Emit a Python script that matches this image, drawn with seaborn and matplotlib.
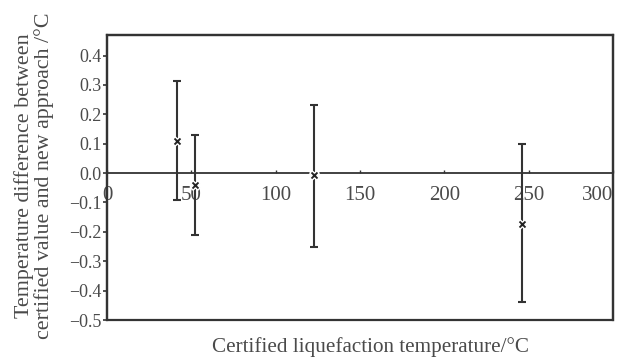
import matplotlib
matplotlib.use("Agg")
import matplotlib.pyplot as plt
from matplotlib.patches import Rectangle
import pandas as pd
import seaborn as sns

# certified liquefaction temperature vs. difference (new approach - certified)
certified_temp = [41.5, 52, 123, 246]
temp_diff = [0.108, -0.042, -0.008, -0.173]
err_upper = [0.313, 0.131, 0.231, 0.100]
err_lower = [-0.091, -0.210, -0.250, -0.440]

x_ticks = [0, 50, 100, 150, 200, 250, 300]
y_ticks = [-0.5, -0.4, -0.3, -0.2, -0.1, 0.0, 0.1, 0.2, 0.3, 0.4]

sns.set_theme(style="white")
plt.rcParams['font.family'] = ['Liberation Serif', 'DejaVu Serif']

ink = '#333333'
txt = '#4a4a4a'

df = pd.DataFrame({'x': certified_temp, 'y': temp_diff,
                   'hi': err_upper, 'lo': err_lower})

fig = plt.figure(figsize=(6.17, 3.59), dpi=100)
ax = fig.add_axes([0.1734, 0.1086, 0.8201, 0.7939])

yerr = [df['y'] - df['lo'], df['hi'] - df['y']]
ax.errorbar(df['x'], df['y'], yerr=yerr, fmt='none', ecolor=ink,
            elinewidth=1.5, capsize=3, capthick=1.5, zorder=3)
sns.scatterplot(data=df, x='x', y='y', ax=ax, marker='X', s=45,
                color='#222222', edgecolor='white', linewidth=1.0, zorder=4)

ax.set_xlim(0, 297)
ax.set_ylim(-0.5, 0.47)
ax.set_xticks(x_ticks)
ax.set_yticks(y_ticks)
ax.set_xticklabels([str(t) for t in x_ticks])
ax.set_yticklabels(['\u2212%.1f' % abs(t) if t < 0 else '%.1f' % t for t in y_ticks])

# x axis sits on zero, full frame drawn around the plot
ax.spines['bottom'].set_position(('data', 0))
for s in ['top', 'right', 'left']:
    ax.spines[s].set_color(ink)
    ax.spines[s].set_linewidth(1.6)
ax.spines['bottom'].set_color(ink)
ax.spines['bottom'].set_linewidth(1.3)
ax.add_patch(Rectangle((0, 0), 1, 1, transform=ax.transAxes, fill=False,
                       edgecolor=ink, linewidth=1.6, clip_on=False, zorder=5))

ax.tick_params(axis='y', direction='out', length=3, width=1.2, color=ink,
               labelsize=13, labelcolor=txt, pad=1, left=True)
ax.tick_params(axis='x', direction='in', length=2, width=1, color=ink,
               labelsize=15, labelcolor=txt, pad=9, bottom=True)
labels = ax.get_xticklabels()
labels[-1].set_horizontalalignment('right')

ax.set_xlabel("Certified liquefaction temperature/\u00b0C", fontsize=15.2, color=txt)
ax.xaxis.set_label_coords(0.52, -0.06)
ax.xaxis.label.set_verticalalignment('top')
ax.set_ylabel("Temperature difference between\ncertified value and new approach /\u00b0C",
              fontsize=15.8, color=txt, linespacing=1.0)
ax.yaxis.set_label_coords(-0.105, 0.505)

fig.savefig("out.png", dpi=100)
